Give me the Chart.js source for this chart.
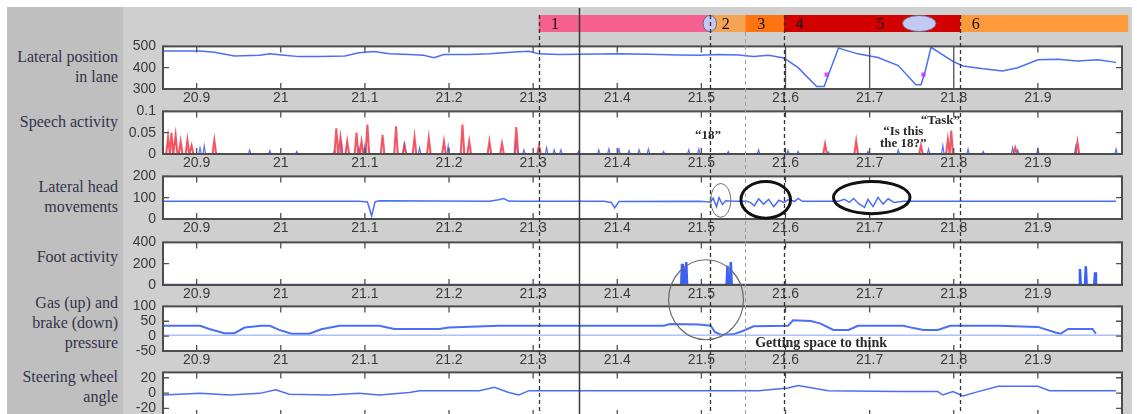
<!DOCTYPE html>
<html>
<head>
<meta charset="utf-8">
<script src="https://cdn.jsdelivr.net/npm/chart.js@4.4.0/dist/chart.umd.min.js"></script>
<style>
body { margin: 0; background: #fff; width: 1137px; height: 414px; overflow: hidden; }
#fig { position: absolute; left: 7px; top: 7px; width: 1125px; height: 407px; background: #cfcfcf; }
#side { position: absolute; left: 7px; top: 7px; width: 116px; height: 407px; background: #bfbfbf; }
.lbl { position: absolute; left: 0; width: 118px; text-align: right; font: 16px "Liberation Serif"; line-height: 20px; color: #33334a; }
canvas { position: absolute; }
#overlay { left: 0; top: 0; z-index: 10; pointer-events: none; }
</style>
</head>
<body>
<div id="fig"></div>
<div id="side"></div>
<div class="lbl" style="top:47px">Lateral position<br>in lane</div>
<div class="lbl" style="top:112px">Speech activity</div>
<div class="lbl" style="top:177px">Lateral head<br>movements</div>
<div class="lbl" style="top:247px">Foot activity</div>
<div class="lbl" style="top:293px">Gas (up) and<br>brake (down)<br>pressure</div>
<div class="lbl" style="top:367px">Steering wheel<br>angle</div>
<canvas id="strip"></canvas>
<canvas id="p1"></canvas>
<canvas id="p2"></canvas>
<canvas id="p3"></canvas>
<canvas id="p4"></canvas>
<canvas id="p5"></canvas>
<canvas id="p6"></canvas>
<canvas id="overlay" width="1137" height="414"></canvas>
<script>
// time axis (minutes)
const X_MIN = 20.86, X_MAX = 22.0;
const xTicks = [20.9, 21.0, 21.1, 21.2, 21.3, 21.4, 21.5, 21.6, 21.7, 21.8, 21.9];

// phases on top strip
const phaseNames = ['1', '2', '3', '4', '5', '6'];
const phaseStart = [21.307, 21.51, 21.552, 21.598, 21.694, 21.807];
const phaseEnd = [21.51, 21.552, 21.598, 21.694, 21.807, 22.007];

// event lines
const eventT = [21.307, 21.354, 21.51, 21.552, 21.598, 21.807];

// lateral position in lane
const laneT = [20.860, 20.904, 20.921, 20.945, 20.975, 20.987, 21.004, 21.022, 21.046, 21.076, 21.093, 21.111,
  21.129, 21.153, 21.170, 21.182, 21.194, 21.224, 21.248, 21.265, 21.283, 21.295, 21.307, 21.331, 21.354,
  21.402, 21.437, 21.473, 21.497, 21.520, 21.544, 21.562, 21.580, 21.598, 21.615, 21.637, 21.646, 21.651,
  21.663, 21.686, 21.710, 21.734, 21.755, 21.761, 21.765, 21.773, 21.799, 21.811, 21.835, 21.858, 21.876,
  21.900, 21.924, 21.947, 21.971, 21.993];
const laneY = [478, 478, 472, 455, 458, 465, 458, 452, 452, 455, 470, 476,
  465, 462, 458, 447, 462, 462, 465, 470, 475, 477, 465, 462, 463,
  466, 463, 460, 458, 462, 460, 453, 458, 446, 400, 312, 312, 367,
  492, 465, 448, 410, 320, 320, 367, 496, 430, 408, 395, 385, 400,
  437, 440, 432, 437, 425];
const laneMarkT = [21.649, 21.764];
const laneMarkY = [367, 367];
const laneBoxT = [21.6, 21.7, 21.8];
const laneTicks = [300, 400, 500];

// speech activity (two speakers)
const speechRedT = [20.866, 20.870, 20.875, 20.881, 20.889, 20.894, 20.921, 21.066, 21.071, 21.079, 21.090,
  21.096, 21.103, 21.121, 21.137, 21.147, 21.159, 21.176, 21.194, 21.216, 21.224, 21.248, 21.263, 21.280,
  21.307, 21.647, 21.684, 21.761, 21.793, 21.797, 21.873, 21.947];
const speechRedH = [0.04, 0.05, 0.045, 0.03, 0.033, 0.02, 0.033, 0.06, 0.04, 0.03, 0.05,
  0.03, 0.069, 0.045, 0.065, 0.02, 0.04, 0.038, 0.03, 0.069, 0.03, 0.03, 0.025, 0.063,
  0.02, 0.024, 0.031, 0.02, 0.035, 0.055, 0.015, 0.029];
const speechBlueT = [20.904, 20.909, 20.963, 20.987, 21.019, 21.064, 21.072, 21.093, 21.100, 21.147, 21.165,
  21.199, 21.280, 21.289, 21.307, 21.316, 21.325, 21.333, 21.354, 21.378, 21.390, 21.402, 21.414, 21.426,
  21.437, 21.455, 21.485, 21.497, 21.532, 21.568, 21.603, 21.615, 21.651, 21.698, 21.734, 21.770, 21.787,
  21.817, 21.835, 21.870, 21.876, 21.900, 21.945, 21.993];
const speechBlueH = [0.015, 0.02, 0.01, 0.008, 0.006, 0.01, 0.03, 0.015, 0.02, 0.03, 0.015,
  0.02, 0.03, 0.01, 0.012, 0.015, 0.01, 0.01, 0.006, 0.01, 0.012, 0.012, 0.008, 0.01,
  0.012, 0.006, 0.01, 0.012, 0.006, 0.01, 0.008, 0.006, 0.005, 0.006, 0.01, 0.012, 0.02,
  0.012, 0.006, 0.015, 0.01, 0.012, 0.018, 0.012];
const speechTicks = [0, 0.05, 0.1];

// lateral head movements
const headT = [20.860, 21.093, 21.103, 21.108, 21.112, 21.117, 21.248, 21.259, 21.265, 21.271, 21.283,
  21.384, 21.393, 21.397, 21.402, 21.497, 21.511, 21.514, 21.518, 21.521, 21.525, 21.529, 21.538,
  21.554, 21.558, 21.563, 21.568, 21.574, 21.580, 21.586, 21.592, 21.598, 21.603, 21.611, 21.615, 21.620,
  21.663, 21.670, 21.676, 21.681, 21.687, 21.694, 21.698, 21.704, 21.710, 21.716, 21.722, 21.729, 21.740, 21.993];
const headY = [83, 83, 80, 15, 80, 86, 83, 90, 96, 84, 83,
  83, 78, 52, 82, 83, 80, 98, 58, 100, 68, 86, 83,
  83, 78, 62, 95, 70, 92, 58, 88, 78, 90, 83, 97, 83,
  83, 92, 78, 96, 72, 55, 92, 58, 102, 70, 95, 78, 83, 83];
const headTicks = [0, 100, 200];

// foot activity
const footT = [21.477, 21.480, 21.482, 21.531, 21.535, 21.950, 21.957, 21.968];
const footH = [200, 160, 215, 180, 215, 150, 175, 120];
const footTicks = [0, 200, 400];

// gas (up) and brake (down) pressure
const gasT = [20.860, 20.904, 20.915, 20.933, 20.945, 20.957, 20.977, 20.987, 20.998, 21.013, 21.034, 21.048,
  21.070, 21.117, 21.135, 21.188, 21.200, 21.259, 21.455, 21.463, 21.497, 21.511, 21.516, 21.523, 21.538,
  21.550, 21.562, 21.603, 21.609, 21.630, 21.641, 21.657, 21.675, 21.686, 21.740, 21.752, 21.764, 21.781,
  21.796, 21.853, 21.900, 21.921, 21.927, 21.936, 21.965, 21.969];
const gasY = [35, 35, 24, 10, 10, 29, 35, 35, 21, 8, 8, 23,
  35, 35, 24, 24, 29, 35, 35, 41, 39, 35, 14, 5, 6,
  18, 33, 35, 53, 51, 43, 21, 21, 35, 35, 27, 21, 21,
  35, 35, 31, 12, 8, 24, 24, 8];
const brakeT = [20.860, 22.0];
const brakeY = [3, 3];
const gasTicks = [-50, 0, 50, 100];

// steering wheel angle
const steerT = [20.860, 20.904, 20.939, 20.975, 20.994, 21.010, 21.058, 21.093, 21.117, 21.153, 21.165, 21.236,
  21.254, 21.271, 21.283, 21.295, 21.497, 21.568, 21.603, 21.615, 21.651, 21.734, 21.781, 21.787, 21.799,
  21.811, 21.829, 21.853, 21.900, 21.914, 21.993];
const steerY = [-2.6, -0.4, -2.6, -0.4, 4.2, -1.5, -2.6, -0.4, -2.6, 0.8, 3.1, 3.1,
  7.6, 0.8, -2.6, 3.1, 3.1, 3.1, 6.5, 9.9, 3.1, 1.9, 1.9, -2.6, 1.9,
  -3.8, 1.9, 8.8, 8.8, 3.1, 3.1];
const steerTicks = [-20, 0, 20];

const BLUE = '#4a6ff6';
const TICK_FONT = { family: 'Liberation Sans', size: 14 };
const TICK_COLOR = '#3a3a3a';

function pts(ts, ys) { return ts.map((t, i) => ({ x: t, y: ys[i] })); }
function spikes(ts, hs, w) {
  const out = [{ x: X_MIN, y: 0 }];
  ts.forEach((t, i) => { out.push({ x: t - w, y: 0 }, { x: t, y: hs[i] }, { x: t + w, y: 0 }); });
  out.push({ x: X_MAX, y: 0 });
  return out;
}

const framePlugin = {
  id: 'frame',
  beforeDraw(c) {
    const a = c.chartArea, g = c.ctx;
    g.save(); g.fillStyle = '#fff'; g.fillRect(a.left, a.top, a.width, a.height); g.restore();
  },
  afterDraw(c, args, o) {
    const a = c.chartArea, g = c.ctx, sx = c.scales.x, sy = c.scales.y;
    g.save();
    g.strokeStyle = '#505050'; g.lineWidth = 1.3;
    g.beginPath();
    sx.ticks.forEach(t => {
      const x = sx.getPixelForValue(t.value);
      g.moveTo(x, a.bottom); g.lineTo(x, a.bottom - 6);
      g.moveTo(x, a.top); g.lineTo(x, a.top + 6);
    });
    sy.ticks.forEach(t => {
      const y = sy.getPixelForValue(t.value);
      g.moveTo(a.left, y); g.lineTo(a.left + 6, y);
      g.moveTo(a.right, y); g.lineTo(a.right - 6, y);
    });
    (o.boxT || []).forEach(t => {
      const x = sx.getPixelForValue(t);
      g.moveTo(x, a.top); g.lineTo(x, a.bottom);
    });
    g.stroke();
    g.lineWidth = 2; g.strokeStyle = '#4d4d4d';
    g.strokeRect(a.left, a.top, a.width, a.height);
    g.restore();
  }
};

function panel(id, plotTop, plotH, yMin, yMax, yTicks, datasets, frameOpts) {
  const cv = document.getElementById(id);
  cv.width = 1012; cv.height = plotH + 9 + 16;
  cv.style.left = '120px'; cv.style.top = (plotTop - 9) + 'px';
  return new Chart(cv, {
    type: 'line',
    data: { datasets },
    options: {
      responsive: false, animation: false, devicePixelRatio: 1,
      layout: { padding: { top: 9, right: 10, left: 0, bottom: 0 } },
      elements: { point: { radius: 0 }, line: { tension: 0 } },
      plugins: { legend: { display: false }, tooltip: { enabled: false }, frame: frameOpts || {} },
      scales: {
        x: {
          type: 'linear', min: X_MIN, max: X_MAX,
          grid: { display: false, drawTicks: false }, border: { display: false },
          ticks: { color: TICK_COLOR, font: TICK_FONT, padding: 1, maxRotation: 0, autoSkip: false,
            callback: v => String(Math.round(v * 10) / 10) },
          afterBuildTicks: s => { s.ticks = xTicks.map(v => ({ value: v })); },
          afterFit: s => { s.height = 16; }
        },
        y: {
          min: yMin, max: yMax,
          grid: { display: false, drawTicks: false }, border: { display: false },
          ticks: { color: TICK_COLOR, font: TICK_FONT, padding: 7, autoSkip: false, callback: v => String(v) },
          afterBuildTicks: s => { s.ticks = yTicks.map(v => ({ value: v })); },
          afterFit: s => { s.width = 43; }
        }
      }
    },
    plugins: [framePlugin]
  });
}

// top strip with phases
const stripCv = document.getElementById('strip');
stripCv.width = 1012; stripCv.height = 17;
stripCv.style.left = '120px'; stripCv.style.top = '15px';
const phaseColors = ['#f5608f', '#f3a552', '#ff7410', '#d20000', '#d20000', '#ff9a3c'];
const stripPlugin = {
  id: 'stripLabels',
  afterDatasetsDraw(c) {
    const g = c.ctx, a = c.chartArea, sx = c.scales.x;
    g.save();
    // lilac marks
    [[21.502, 21.518], [21.739, 21.779]].forEach(([t0, t1]) => {
      const x0 = sx.getPixelForValue(t0), x1 = sx.getPixelForValue(t1);
      g.beginPath();
      g.ellipse((x0 + x1) / 2, (a.top + a.bottom) / 2, (x1 - x0) / 2, (a.bottom - a.top) / 2 - 0.5, 0, 0, Math.PI * 2);
      g.fillStyle = '#c4c8f4'; g.fill();
      g.strokeStyle = '#6a6a7a'; g.lineWidth = 1; g.stroke();
    });
    g.fillStyle = '#111'; g.font = '16px "Liberation Serif"';
    g.textBaseline = 'middle';
    phaseNames.forEach((n, i) => {
      g.fillText(n, sx.getPixelForValue(phaseStart[i]) + 12, (a.top + a.bottom) / 2 + 1);
    });
    g.restore();
  }
};
const strip = new Chart(stripCv, {
  type: 'bar',
  data: {
    labels: ['phase'],
    datasets: phaseStart.map((s, i) => ({
      data: [[s, phaseEnd[i]]], backgroundColor: phaseColors[i], borderWidth: 0,
      barPercentage: 1, categoryPercentage: 1, grouped: false, clip: false
    }))
  },
  options: {
    indexAxis: 'y', responsive: false, animation: false, devicePixelRatio: 1,
    layout: { padding: { top: 0, bottom: 0, left: 43, right: 10 } },
    plugins: { legend: { display: false }, tooltip: { enabled: false } },
    scales: {
      x: { type: 'linear', min: X_MIN, max: X_MAX, display: false },
      y: { display: false }
    }
  },
  plugins: [stripPlugin]
});

const lane = panel('p1', 40, 49, 300, 500, laneTicks, [
  { data: pts(laneT, laneY), borderColor: BLUE, borderWidth: 1.5 },
  { data: pts(laneMarkT, laneMarkY), showLine: false, pointRadius: 3, pointStyle: 'rect',
    pointBackgroundColor: '#ff3cff', pointBorderWidth: 0 }
], { boxT: laneBoxT });

const speech = panel('p2', 105, 49, 0, 0.1, speechTicks, [
  { data: spikes(speechRedT, speechRedH, 0.0022), borderColor: 'rgba(240,60,75,0.85)', borderWidth: 2,
    fill: 'origin', backgroundColor: 'rgba(255,150,160,0.35)' },
  { data: spikes(speechBlueT, speechBlueH, 0.0015), borderColor: 'rgba(40,70,240,0.75)', borderWidth: 1.2 }
]);

const head = panel('p3', 170, 49, 0, 200, headTicks, [
  { data: pts(headT, headY), borderColor: BLUE, borderWidth: 1.5 }
]);

const foot = panel('p4', 236, 49, 0, 400, footTicks, [
  { data: spikes(footT, footH, 0.001), borderColor: '#3a60f4', borderWidth: 2.5,
    fill: 'origin', backgroundColor: 'rgba(60,95,245,0.5)' }
]);

const gas = panel('p5', 300, 51, -50, 100, gasTicks, [
  { data: pts(brakeT, brakeY), borderColor: 'rgba(140,165,250,0.7)', borderWidth: 1.5 },
  { data: pts(gasT, gasY), borderColor: BLUE, borderWidth: 2 }
]);

const steer = panel('p6', 366, 50, -30, 27, steerTicks, [
  { data: pts(steerT, steerY), borderColor: BLUE, borderWidth: 1.5 }
]);

// overlay: event lines and annotations
const ov = document.getElementById('overlay').getContext('2d');
function px(c, t) { return parseFloat(c.canvas.style.left) + c.scales.x.getPixelForValue(t); }
function py(c, v) { return parseFloat(c.canvas.style.top) + c.scales.y.getPixelForValue(v); }

const eventStyle = ['dash', 'solid', 'dash', 'light', 'dash', 'dash'];
eventT.forEach((t, i) => {
  const x = Math.round(px(lane, t)) + 0.5;
  const st = eventStyle[i];
  ov.save();
  ov.beginPath();
  if (st === 'solid') { ov.setLineDash([]); ov.strokeStyle = '#3a3a3a'; ov.lineWidth = 1.5; ov.moveTo(x, 8); }
  else if (st === 'light') { ov.setLineDash([4, 3]); ov.strokeStyle = '#a0a0a0'; ov.lineWidth = 1; ov.moveTo(x, 32); }
  else { ov.setLineDash([4, 3]); ov.strokeStyle = '#333'; ov.lineWidth = 1.3; ov.moveTo(x, 15); }
  ov.lineTo(x, 414);
  ov.stroke();
  ov.restore();
});

function ring(c, t0, t1, v0, v1, w, color) {
  const x0 = px(c, t0), x1 = px(c, t1), y0 = py(c, v0), y1 = py(c, v1);
  ov.save();
  ov.beginPath();
  ov.ellipse((x0 + x1) / 2, (y0 + y1) / 2, Math.abs(x1 - x0) / 2, Math.abs(y1 - y0) / 2, 0, 0, Math.PI * 2);
  ov.strokeStyle = color; ov.lineWidth = w; ov.stroke();
  ov.restore();
}
ring(head, 21.511, 21.535, 167, 8, 1, '#707070');
ring(head, 21.547, 21.606, 176, 4, 3, '#111');
ring(head, 21.657, 21.748, 176, 25, 3, '#111');
ring(foot, 21.461, 21.55, 237, -514, 1.2, '#6a6a6a');

function note(c, t, v, text, size, align) {
  ov.save();
  ov.font = 'bold ' + size + 'px "Liberation Serif"';
  ov.fillStyle = '#2a2a2a'; ov.textAlign = align || 'center'; ov.textBaseline = 'middle';
  ov.fillText(text, px(c, t), py(c, v));
  ov.restore();
}
note(speech, 21.508, 0.043, '\u201C18\u201D', 13);
note(speech, 21.740, 0.053, '\u201CIs this', 13);
note(speech, 21.740, 0.025, 'the 18?\u201D', 13);
note(speech, 21.784, 0.078, '\u201CTask\u201D', 13);
note(gas, 21.564, -23.5, 'Getting space to think', 14, 'left');
</script>
</body>
</html>
